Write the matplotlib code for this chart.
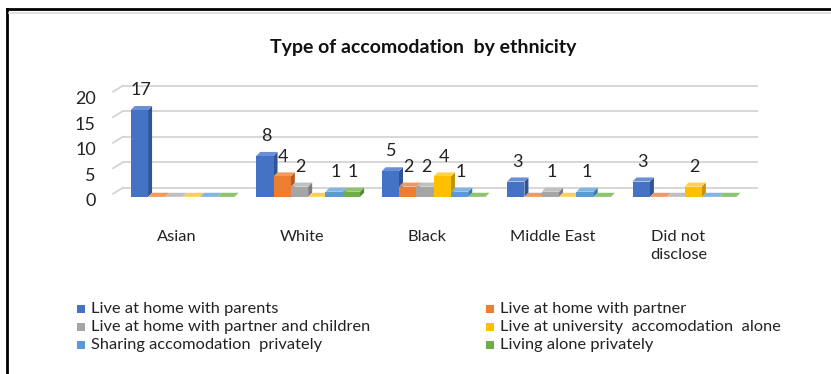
import numpy as np
import matplotlib.pyplot as plt
from matplotlib.patches import Polygon, Rectangle
from matplotlib.lines import Line2D

plt.rcParams['font.family'] = ['Lato', 'DejaVu Sans']

categories = ['Asian', 'White', 'Black', 'Middle East', 'Did not\ndisclose']
series_names = ['Live at home with parents', 'Live at home with partner',
                'Live at home with partner and children', 'Live at university  accomodation  alone',
                'Sharing accomodation  privately', 'Living alone privately']
parents = [17, 8, 5, 3, 3]
partner = [0, 4, 2, 0, 0]
partner_children = [0, 2, 2, 1, 0]
university = [0, 0, 4, 0, 2]
sharing = [0, 1, 1, 1, 0]
alone = [0, 1, 0, 0, 0]
series = [parents, partner, partner_children, university, sharing, alone]
yticks = [0, 5, 10, 15, 20]

colors = ['#4472C4', '#ED7D31', '#A5A5A5', '#FFC000', '#5B9BD5', '#70AD47']
tops = ['#6a8fd6', '#f29a5e', '#c0c0c0', '#ffd24d', '#82b5e2', '#8fc46e']
sides = ['#2f5597', '#b85a1c', '#7c7c7c', '#c49300', '#3a77b0', '#4e8a2c']

W, H = 831, 374
fig = plt.figure(figsize=(W / 100, H / 100), dpi=100)

# axes placed in pixel terms: x 100..780, y 82..204
ax = fig.add_axes([100 / W, 1 - 204 / H, 680 / W, 122 / H])
ax.set_xlim(-0.66, 4.76)
ax.set_ylim(-1.4, 22.5)
for s in ax.spines.values():
    s.set_visible(False)

# back-wall gridlines (3d look)
grid_dy = 1.8
for v in yticks:
    ax.plot([-0.477, 4.575], [v + grid_dy, v + grid_dy], color='#d4d4d4', lw=1.3, zorder=0)
    ax.plot([-0.556, -0.477], [v + 0.6, v + grid_dy], color='#d4d4d4', lw=1.3, zorder=0)

bw = 0.138
dx, dy = 0.032, 0.8
for g in range(len(categories)):
    for i, vals in enumerate(series):
        h = vals[g]
        x0 = g - 0.415 + i * bw
        ax.add_patch(Polygon([(x0 + bw, 0), (x0 + bw + dx, dy), (x0 + bw + dx, h + dy), (x0 + bw, h)],
                             closed=True, fc=sides[i], ec='none', zorder=2 + g * 10 + i))
        ax.add_patch(Polygon([(x0, h), (x0 + bw, h), (x0 + bw + dx, h + dy), (x0 + dx, h + dy)],
                             closed=True, fc=tops[i], ec='none', zorder=2 + g * 10 + i))
        ax.bar(x0, h, width=bw, align='edge', color=colors[i], zorder=2 + g * 10 + i)
        if h > 0:
            ax.text(x0 + bw / 2 + 0.01, h + 3.9, str(h), ha='center', va='center',
                    fontsize=13, color='#222222', zorder=100)

ax.set_yticks(np.array(yticks) - 0.6)
ax.set_yticklabels([str(v) for v in yticks], fontsize=13, color='#222222')
ax.tick_params(axis='y', length=0, pad=3)
ax.set_xticks(np.arange(len(categories)) - 0.05)
ax.set_xticklabels(categories, fontsize=11.8, color='#222222', linespacing=1.35, va='top')
ax.tick_params(axis='x', length=0, pad=19)

fig.text(423 / W, 1 - 47 / H, 'Type of accomodation  by ethnicity', ha='center', va='center',
         fontsize=14, fontweight='bold', color='#111111')

# legend laid out in two columns, row by row
leg_x = [77, 486]
leg_y = [309, 327, 345]
for k, name in enumerate(series_names):
    col, row = k % 2, k // 2
    px, py = leg_x[col], leg_y[row]
    fig.add_artist(Rectangle((px / W, 1 - (py + 4) / H), 8 / W, 8 / H, transform=fig.transFigure,
                             fc=colors[k], ec='none'))
    fig.text((px + 14) / W, 1 - py / H, name, ha='left', va='center', fontsize=11.8, color='#222222')

# frame
fig.add_artist(Line2D([7 / W, 7 / W], [0, 1 - 9 / H], color='black', lw=2, transform=fig.transFigure))
fig.add_artist(Line2D([7 / W, 1], [1 - 9 / H, 1 - 9 / H], color='black', lw=2, transform=fig.transFigure))
fig.add_artist(Line2D([9 / W, 1], [1 - 12.5 / H, 1 - 12.5 / H], color='#dddddd', lw=1.2, transform=fig.transFigure))

fig.savefig('out.png', dpi=100)
